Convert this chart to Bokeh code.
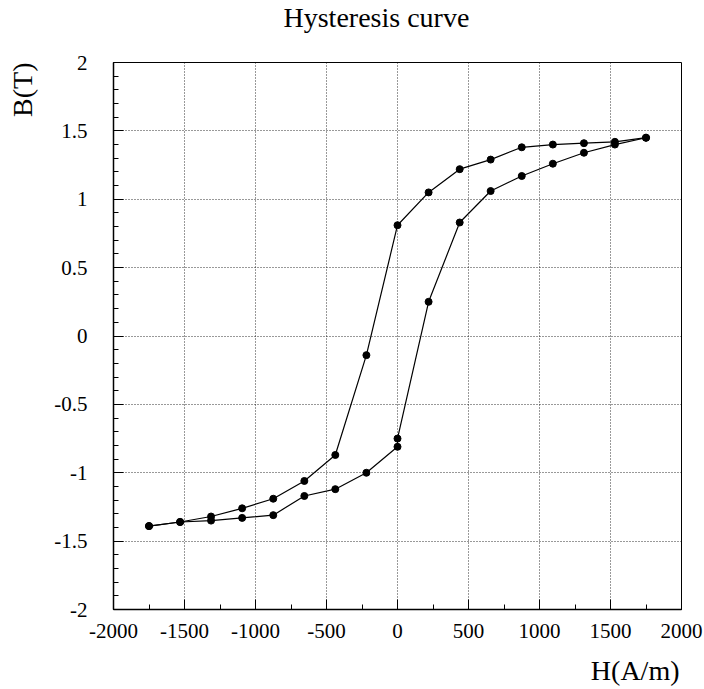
from bokeh.plotting import figure
from bokeh.models import Range1d, Title, SingleIntervalTicker, LinearAxis, FixedTicker
from bokeh.embed import file_html
from bokeh.resources import INLINE

# Descending branch (from positive saturation to negative saturation)
H_desc = [1750, 1531, 1313, 1094, 875, 656, 438, 219, 0, -219, -438, -656, -875, -1094, -1313, -1531, -1750]
B_desc = [1.45, 1.42, 1.41, 1.40, 1.38, 1.29, 1.22, 1.05, 0.81, -0.14, -0.87, -1.06, -1.19, -1.26, -1.32, -1.36, -1.39]

# Ascending branch (from negative saturation back to positive saturation)
H_asc = [-1750, -1531, -1313, -1094, -875, -656, -438, -219, 0, 0, 219, 438, 656, 875, 1094, 1313, 1531, 1750]
B_asc = [-1.39, -1.36, -1.35, -1.33, -1.31, -1.17, -1.12, -1.00, -0.81, -0.75, 0.25, 0.83, 1.06, 1.17, 1.26, 1.34, 1.40, 1.45]

x_ticks = [-2000, -1500, -1000, -500, 0, 500, 1000, 1500, 2000]
x_tick_labels = ["-2000", "-1500", "-1000", "-500", "0", "500", "1000", "1500", "2000"]
y_ticks = [-2.0, -1.5, -1.0, -0.5, 0.0, 0.5, 1.0, 1.5, 2.0]
y_tick_labels = ["-2", "-1.5", "-1", "-0.5", "0", "0.5", "1", "1.5", "2"]

TITLE = "Hysteresis curve"
X_LABEL = "H(A/m)"
Y_LABEL = "B(T)"

FONT = "Liberation Serif"

p = figure(width=704, height=689, output_backend="svg", toolbar_location=None,
           x_range=Range1d(-2000, 2000), y_range=Range1d(-2, 2), title=None,
           min_border_left=113, min_border_right=23, min_border_top=62, min_border_bottom=80)
p.background_fill_color = "white"
p.border_fill_color = "white"
p.outline_line_color = "black"
p.outline_line_width = 1

p.xaxis.ticker = SingleIntervalTicker(interval=500, num_minor_ticks=2)
p.yaxis.ticker = SingleIntervalTicker(interval=0.5, num_minor_ticks=5)
p.xaxis.major_label_overrides = {t: l for t, l in zip(x_ticks, x_tick_labels)}
p.yaxis.major_label_overrides = {t: l for t, l in zip(y_ticks, y_tick_labels)}

for ax in (p.xaxis, p.yaxis):
    ax.major_tick_in = 10
    ax.major_tick_out = 0
    ax.minor_tick_in = 5
    ax.minor_tick_out = 0
    ax.major_tick_line_color = "black"
    ax.minor_tick_line_color = "black"
    ax.axis_line_color = "black"
    ax.axis_line_width = 1.5
    ax.major_label_text_font = FONT
    ax.major_label_text_font_size = "21px"
    ax.major_label_text_color = "black"
p.xaxis.major_label_standoff = 14
p.yaxis.major_label_standoff = 26

for g in (p.xgrid, p.ygrid):
    g.grid_line_color = "black"
    g.grid_line_dash = "1 2"
    g.grid_line_width = 1
    g.grid_line_alpha = 0.8

for hx, by in ((H_desc, B_desc), (H_asc, B_asc)):
    p.line(hx, by, line_color="black", line_width=1.2)
    p.scatter(hx, by, size=7, fill_color="black", line_color="black")


def spacer(gap, at):
    # an axis whose single tick is white and unlabeled: it only reserves room
    # between the real axis and the outer label
    return LinearAxis(ticker=FixedTicker(ticks=[at], minor_ticks=[]),
                      major_label_overrides={at: ""},
                      major_tick_out=int(gap), major_tick_in=0,
                      minor_tick_out=0, minor_tick_in=0, major_label_standoff=0,
                      axis_line_color=None, major_tick_line_color="white",
                      major_tick_line_alpha=0.02, minor_tick_line_color=None)


def label_title(text, **kw):
    return Title(text=text, text_font=FONT, text_font_size="28px",
                 text_font_style="normal", text_color="black", standoff=0, **kw)


# top: spacer between frame and title, then the title
p.add_layout(spacer(28, 250), "above")
p.add_layout(label_title(TITLE, align="left", offset=170, vertical_align="top"), "above")

# bottom: axis, spacer, x label
p.add_layout(spacer(12, 250), "below")
p.add_layout(label_title(X_LABEL, align="right", offset=2, vertical_align="bottom"), "below")

# left: axis, spacer, y label
p.add_layout(spacer(12, 0.25), "left")
p.add_layout(label_title(Y_LABEL, align="right", offset=0, vertical_align="top"), "left")

open("out.html", "w").write(file_html(p, INLINE))
